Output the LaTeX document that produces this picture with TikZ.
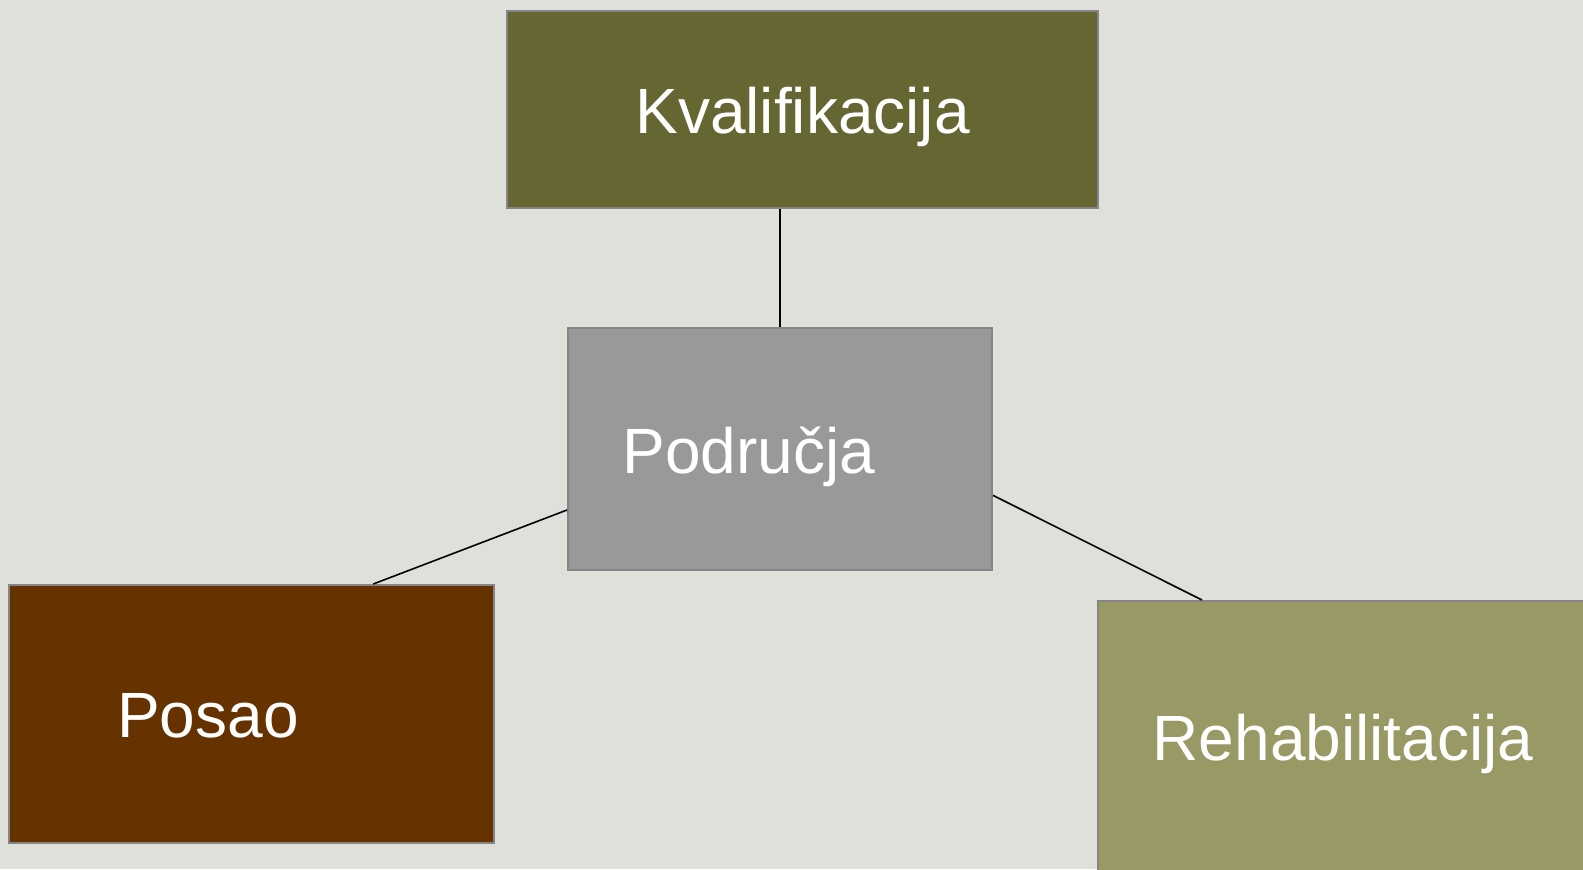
\documentclass[tikz,border=0pt]{standalone}
\usepackage{fontspec}
\setmainfont{Liberation Sans}
\usetikzlibrary{positioning,calc}

\definecolor{bgpaper}{RGB}{224,224,218}
\definecolor{kvalcol}{RGB}{102,102,51}
\definecolor{podcol}{RGB}{153,153,153}
\definecolor{posaocol}{RGB}{102,51,0}
\definecolor{rehabcol}{RGB}{153,153,102}
\definecolor{edgecol}{RGB}{133,133,133}

\begin{document}
\begin{tikzpicture}[x=0.5pt,y=-0.5pt,
    every node/.style={font=\fontsize{32}{38}\selectfont},
    box/.style={rectangle,draw=edgecol,line width=1pt,inner sep=0pt},
    lbl/.style={text=white,inner sep=0pt},
    link/.style={draw=black,line width=0.8pt}
]

% Page and background
\fill[bgpaper] (0,0) rectangle (1583,869);
\useasboundingbox (0,0) rectangle (1583,869);
\clip (0,0) rectangle (1583,869);

% Boxes
\node[box,fill=kvalcol,minimum width=295.5pt,minimum height=98.5pt,
      label={[lbl,yshift=-3.5pt]center:Kvalifikacija}] (kval) at (802.5,109.5) {};
\node[box,fill=podcol,minimum width=212pt,minimum height=121pt,
      label={[lbl,xshift=-15.5pt,yshift=-4pt]center:Područja}] (podrucja) at (780,449) {};
\node[box,fill=posaocol,minimum width=242.5pt,minimum height=129pt,
      label={[lbl,xshift=-21.75pt,yshift=-1pt]center:Posao}] (posao) at (251.5,714) {};
\node[box,fill=rehabcol,minimum width=251pt,minimum height=149.5pt,
      label={[lbl,xshift=-3pt,yshift=3.5pt]center:Rehabilitacija}] (rehab) at (1349,750.5) {};

% Connections
\draw[link] (podrucja.north) -- (podrucja.north |- kval.south);
\draw[link] ($(podrucja.north west)!0.75!(podrucja.south west)$)
    -- ($(posao.north west)!0.75!(posao.north east)$);
\draw[link] ($(podrucja.north east)!0.69!(podrucja.south east)$)
    -- ($(rehab.north west)+(105,0)$);

\end{tikzpicture}
\end{document}
